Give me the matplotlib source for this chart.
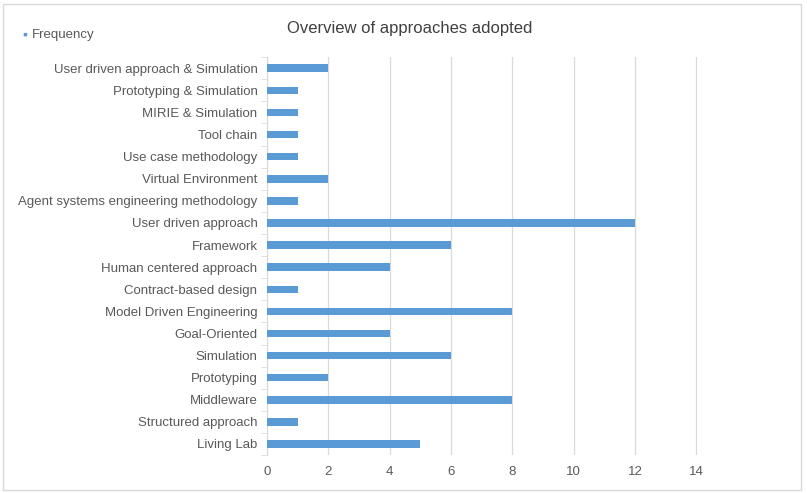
import matplotlib.pyplot as plt
from matplotlib.patches import Rectangle
import numpy as np

plt.rcParams['font.family'] = ['Liberation Sans', 'DejaVu Sans']

# categories listed bottom to top
categories = ['Living Lab', 'Structured approach', 'Middleware', 'Prototyping',
              'Simulation', 'Goal-Oriented', 'Model Driven Engineering',
              'Contract-based design', 'Human centered approach', 'Framework',
              'User driven approach', 'Agent systems engineering methodology',
              'Virtual Environment', 'Use case methodology', 'Tool chain',
              'MIRIE & Simulation', 'Prototyping & Simulation',
              'User driven approach & Simulation']
frequency = [5, 1, 8, 2, 6, 4, 8, 1, 4, 6, 12, 1, 2, 1, 1, 1, 1, 2]
x_ticks = [0, 2, 4, 6, 8, 10, 12, 14]

bar_color = '#5B9BD5'
text_color = '#595959'

fig = plt.figure(figsize=(8.07, 4.93), dpi=100)
ax = fig.add_axes([0.331, 0.077, 0.533, 0.807])

y = np.arange(len(categories))
ax.barh(y, frequency, height=0.34, color=bar_color, zorder=3)

ax.set_xlim(0, 14.03)
ax.set_ylim(-0.5, len(categories) - 0.5)
ax.set_xticks(x_ticks)
ax.set_yticks(y)
ax.set_yticklabels(categories)
ax.set_yticks(np.arange(-0.5, len(categories), 1), minor=True)

ax.xaxis.grid(True, color='#D9D9D9', linewidth=0.9, zorder=0)
for s in ['top', 'right', 'bottom']:
    ax.spines[s].set_visible(False)
ax.spines['left'].set_color('#D9D9D9')

ax.tick_params(axis='x', length=0, labelsize=9.5, colors=text_color, pad=8)
ax.tick_params(axis='y', which='major', length=0, labelsize=9.5,
               colors=text_color, pad=7)
ax.tick_params(axis='y', which='minor', length=4, color='#D9D9D9')

fig.text(0.508, 0.943, 'Overview of approaches adopted', ha='center',
         va='center', fontsize=12, color='#404040')
fig.text(0.027, 0.929, '\u25aa', ha='left', va='center', fontsize=10,
         color=bar_color)
fig.text(0.039, 0.929, 'Frequency', ha='left', va='center', fontsize=9.5,
         color=text_color)

fig.add_artist(Rectangle((0.004, 0.006), 0.988, 0.985, transform=fig.transFigure,
                         fill=False, edgecolor='#D9D9D9', linewidth=1))

fig.savefig('out.png', dpi=100)
